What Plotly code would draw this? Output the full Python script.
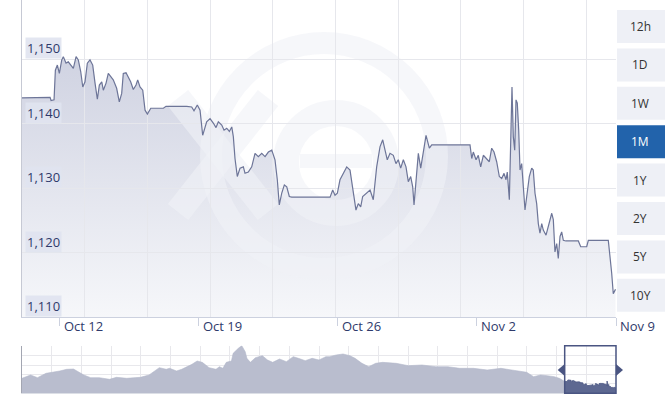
import pandas as pd
import plotly.graph_objects as go

# ---------------- data ----------------
# main series: hours since 2020-10-10 00:00 and the rate
hours = [2.7, 36.6, 37.8, 41.4, 43.0, 45.4, 47.8, 50.7, 52.6, 55.9, 58.6, 62.8, 64.7, 68.0, 70.7,
         73.6, 76.1, 78.8, 81.6, 84.8, 88.1, 90.9, 93.7, 96.1, 99.0, 100.9, 104.2, 106.9, 109.8,
         112.9, 117.0, 120.2, 123.1, 125.0, 128.3, 131.1, 133.9, 137.1, 140.4, 142.4, 145.2, 148.5,
         151.3, 154.1, 158.2, 173.4, 176.6, 201.6, 207.6, 210.4, 214.4, 217.7, 220.9, 225.7, 229.8,
         233.7, 237.0, 239.8, 243.9, 246.7, 249.9, 253.1, 256.0, 257.9, 259.9, 262.7,
         266.0, 270.0, 272.0, 276.0, 280.1, 284.1, 288.1, 292.2, 296.2, 300.2, 304.3, 308.2, 311.0,
         313.4, 316.3, 319.5, 322.4, 325.5, 328.4, 374.7, 377.9, 380.7, 383.5, 386.7, 390.7, 394.8,
         398.8, 402.8, 406.0, 408.8, 411.7, 414.1, 419.0, 423.0, 426.9, 431.0, 435.0, 438.3, 441.1,
         443.8, 447.1, 451.1, 454.3, 457.1, 460.0, 463.2, 466.4, 469.2, 472.1, 474.5, 476.1, 478.5,
         481.3, 484.2, 487.3, 490.6, 494.6, 497.5, 543.7,
         545.8, 547.7, 551.0, 553.7, 556.6, 559.8, 563.0, 567.0, 569.9, 572.7, 575.9, 579.1, 582.0,
         584.8, 587.2, 588.7, 591.2, 592.85, 594.4, 596.0, 597.7, 599.25, 600.8, 602.5, 604.1, 606.1,
         608.1, 610.1, 612.2, 615.3, 618.2, 620.1, 622.2, 624.2, 626.2, 628.2, 630.3, 632.2, 635.5,
         638.3, 642.4, 644.3, 646.3, 648.4, 650.3, 652.4, 654.4, 656.4, 659.6, 674.5, 677.4, 684.6,
         686.6, 710.7, 712.8, 714.8, 716.7, 719.4]
rates = [1.1440, 1.1441, 1.1436, 1.1437, 1.1483, 1.1491, 1.1478, 1.1499, 1.1504, 1.1494, 1.1496,
         1.1488, 1.1486, 1.1504, 1.1499, 1.1481, 1.1457, 1.1465, 1.1494, 1.1499, 1.1491, 1.1463,
         1.1438, 1.1460, 1.1465, 1.1452, 1.1463, 1.1478, 1.1473, 1.1468, 1.1455, 1.1434, 1.1447,
         1.1478, 1.1479, 1.1473, 1.1465, 1.1453, 1.1460, 1.1468, 1.1457, 1.1452, 1.1421, 1.1415,
         1.1424, 1.1424, 1.1427, 1.1427, 1.1426, 1.1420, 1.1429, 1.1421, 1.1382, 1.1403, 1.1408,
         1.1401, 1.1394, 1.1403, 1.1398, 1.1390, 1.1393, 1.1388, 1.1395, 1.1380, 1.1346, 1.1318,
         1.1331, 1.1333, 1.1323, 1.1325, 1.1333, 1.1354, 1.1349, 1.1354, 1.1349, 1.1356, 1.1359,
         1.1344, 1.1313, 1.1274, 1.1292, 1.1305, 1.1302, 1.1287, 1.1286, 1.1286, 1.1297, 1.1289,
         1.1292, 1.1313, 1.1323, 1.1333, 1.1328, 1.1297, 1.1266, 1.1276, 1.1271, 1.1287, 1.1292,
         1.1297, 1.1282, 1.1333, 1.1364, 1.1375, 1.1359, 1.1344, 1.1354, 1.1351, 1.1338, 1.1344,
         1.1331, 1.1344, 1.1333, 1.1310, 1.1318, 1.1302, 1.1274, 1.1318, 1.1354, 1.1331, 1.1354,
         1.1382, 1.1362, 1.1367, 1.1367,
         1.1346, 1.1356, 1.1344, 1.1351, 1.1333, 1.1351, 1.1346, 1.1341, 1.1362, 1.1356, 1.1341,
         1.1318, 1.1315, 1.1323, 1.1313, 1.1325, 1.1282, 1.1380, 1.1457, 1.1380, 1.1359, 1.1437,
         1.1432, 1.1390, 1.1328, 1.1338, 1.1307, 1.1266, 1.1287, 1.1318, 1.1331, 1.1328, 1.1292,
         1.1276, 1.1245, 1.1230, 1.1245, 1.1235, 1.1227, 1.1240, 1.1261, 1.1251, 1.1201, 1.1214,
         1.1191, 1.1225, 1.1232, 1.1219, 1.1218, 1.1218, 1.1209, 1.1209, 1.1219, 1.1219, 1.1194,
         1.1168, 1.1136, 1.1143]

# navigator history (before the selected month)
nav_dates = ["2019-11-29", "2019-12-04", "2019-12-08", "2019-12-13", "2019-12-21", "2019-12-25",
             "2019-12-29", "2020-01-01", "2020-01-04", "2020-01-08", "2020-01-13", "2020-01-19",
             "2020-01-23", "2020-01-29", "2020-02-06", "2020-02-11", "2020-02-15", "2020-02-17",
             "2020-02-21", "2020-02-23", "2020-02-27", "2020-03-01", "2020-03-07", "2020-03-10",
             "2020-03-13", "2020-03-17", "2020-03-21", "2020-03-23", "2020-03-25", "2020-03-27",
             "2020-03-30", "2020-03-31", "2020-04-03", "2020-04-05", "2020-04-07", "2020-04-08",
             "2020-04-10", "2020-04-13", "2020-04-17", "2020-04-20", "2020-04-23", "2020-04-27",
             "2020-05-01", "2020-05-05", "2020-05-08", "2020-05-12", "2020-05-16", "2020-05-20",
             "2020-05-24", "2020-05-26", "2020-05-30", "2020-06-03", "2020-06-07", "2020-06-10",
             "2020-06-14", "2020-06-18", "2020-06-22", "2020-06-26", "2020-07-04", "2020-07-11",
             "2020-07-19", "2020-07-27", "2020-08-03", "2020-08-10", "2020-08-18", "2020-08-26",
             "2020-09-03", "2020-09-10", "2020-09-18", "2020-09-22", "2020-09-26", "2020-09-30",
             "2020-10-04", "2020-10-07"]
nav_rates = [1.1557, 1.1680, 1.1581, 1.1742, 1.1829, 1.1891, 1.1903, 1.1804, 1.1680, 1.1581,
             1.1581, 1.1519, 1.1594, 1.1557, 1.1594, 1.1680, 1.1866, 1.1953, 1.1891, 1.1928,
             1.1829, 1.1891, 1.2077, 1.2201, 1.2151, 1.1953, 1.1891, 1.1990, 1.1928, 1.2151,
             1.2201, 1.2486, 1.2672, 1.2771, 1.2548, 1.2300, 1.2151, 1.2325, 1.2399, 1.2238,
             1.2151, 1.2275, 1.2176, 1.2362, 1.2300, 1.2213, 1.2300, 1.2238, 1.2362, 1.2362,
             1.2424, 1.2461, 1.2399, 1.2300, 1.2114, 1.1990, 1.2114, 1.2151, 1.2114, 1.2027,
             1.2052, 1.1990, 1.1990, 1.1928, 1.1928, 1.1866, 1.1928, 1.1866, 1.1780, 1.1618,
             1.1680, 1.1655, 1.1618, 1.1557]

y_ticks = [1.110, 1.120, 1.130, 1.140, 1.150]
x_tick_dates = ["2020-10-12", "2020-10-19", "2020-10-26", "2020-11-02", "2020-11-09"]
x_tick_labels = ["Oct 12", "Oct 19", "Oct 26", "Nov 2", "Nov 9"]
buttons = ["12h", "1D", "1W", "1M", "1Y", "2Y", "5Y", "10Y"]
active_button = "1M"

# ---------------- layout constants ----------------
BASE = pd.Timestamp("2020-10-10")
times = BASE + pd.to_timedelta(hours, unit="h")
nav_times = list(pd.to_datetime(nav_dates)) + [times[0]]
nav_vals = nav_rates + [rates[0]]

W, H = 672, 406
L, R = 22, 56
PW = W - L - R
MAIN_BOTTOM = 317
X_START = BASE + pd.Timedelta(hours=2.7)
X_END = pd.Timestamp("2020-11-09")
Y_MIN, Y_MAX = 1.110, 1.1592
NAV_START = pd.Timestamp("2019-11-29")
NAV_TOP, NAV_BOT = 345.7, 393.3
FONT = "Open Sans"
LABEL_COLOR = "#2f3a6b"


def pfx(px):
    return (px - L) / PW


def pfy(py):
    return (H - py) / H


def t_at(px):
    return (X_START + (px - L) / PW * (X_END - X_START)).strftime("%Y-%m-%d %H:%M:%S")


def v_at(py):
    return Y_MAX - py / MAIN_BOTTOM * (Y_MAX - Y_MIN)


main_dom = [pfy(MAIN_BOTTOM), 1.0]
nav_dom = [pfy(NAV_BOT), pfy(NAV_TOP)]

fig = go.Figure()

# area fill (main)
fig.add_trace(go.Scatter(
    x=times, y=rates, mode="lines", line=dict(width=0, color="rgba(0,0,0,0)"),
    fill="tozeroy",
    fillgradient=dict(type="vertical", colorscale=[[0, "#f6f7fa"], [1, "#d0d3e2"]],
                      start=Y_MIN, stop=1.150),
    xaxis="x", yaxis="y", hoverinfo="skip", showlegend=False))

# navigator
fig.add_trace(go.Scatter(
    x=nav_times, y=nav_vals, mode="lines", line=dict(width=0.6, color="#b4b9cb"),
    fill="tozeroy", fillcolor="#b9bdce", xaxis="x2", yaxis="y2",
    hoverinfo="skip", showlegend=False))
fig.add_trace(go.Scatter(
    x=times, y=rates, mode="lines", line=dict(width=0.8, color="#4f5a86"),
    fill="tozeroy", fillcolor="#5d6891", xaxis="x2", yaxis="y2",
    hoverinfo="skip", showlegend=False))

# main line (separate subplot so the watermark sits between fill and line)
fig.add_trace(go.Scatter(
    x=times, y=rates, mode="lines", line=dict(width=1.2, color="#6d7598"),
    xaxis="x3", yaxis="y3", hoverinfo="skip", showlegend=False))

shapes = []
WM = "rgba(240,241,246,0.6)"
# watermark: ring
cx, cy, r = 324, 156, 113
shapes.append(dict(type="circle", xref="x3", yref="y3", layer="below",
                   x0=t_at(cx - r), x1=t_at(cx + r), y0=v_at(cy + r), y1=v_at(cy - r),
                   line=dict(color=WM, width=22), fillcolor="rgba(0,0,0,0)"))
# watermark: x
for (a, b, c, d) in [(178, 98, 268, 212), (268, 98, 178, 212)]:
    shapes.append(dict(type="line", xref="x3", yref="y3", layer="below",
                       x0=t_at(a), y0=v_at(b), x1=t_at(c), y1=v_at(d),
                       line=dict(color=WM, width=26)))
# watermark: e
ex, ey, er = 336, 163, 50
shapes.append(dict(type="circle", xref="x3", yref="y3", layer="below",
                   x0=t_at(ex - er), x1=t_at(ex + er), y0=v_at(ey + er), y1=v_at(ey - er),
                   line=dict(color=WM, width=26), fillcolor="rgba(0,0,0,0)"))
shapes.append(dict(type="rect", xref="x3", yref="y3", layer="below",
                   x0=t_at(300), x1=t_at(372), y0=v_at(168), y1=v_at(154),
                   line=dict(width=0), fillcolor=WM))

# navigator window + handles
wl = (times[0] - NAV_START) / (X_END - NAV_START)
shapes.append(dict(type="rect", xref="paper", yref="paper", x0=wl, x1=1.0,
                   y0=nav_dom[0], y1=nav_dom[1], line=dict(color="#4a5582", width=1.5),
                   fillcolor="rgba(0,0,0,0)"))
ym = pfy(370)
hx, hy = 7 / PW, 6 / H
shapes.append(dict(type="path", xref="paper", yref="paper",
                   path=f"M {wl} {ym + hy} L {wl - hx} {ym} L {wl} {ym - hy} Z",
                   fillcolor="#4a5582", line=dict(width=0)))
shapes.append(dict(type="path", xref="paper", yref="paper",
                   path=f"M 1.0 {ym + hy} L {1.0 + hx} {ym} L 1.0 {ym - hy} Z",
                   fillcolor="#4a5582", line=dict(width=0)))

annotations = []
# range buttons
for i, b in enumerate(buttons):
    top = 10 + i * 38.4
    active = (b == active_button)
    shapes.append(dict(type="rect", xref="paper", yref="paper",
                       x0=pfx(617), x1=pfx(665), y0=pfy(top + 33), y1=pfy(top),
                       fillcolor="#2263ab" if active else "#eef0f6", line=dict(width=0)))
    annotations.append(dict(xref="paper", yref="paper", x=pfx(640), y=pfy(top + 16.5),
                            text=b, showarrow=False, xanchor="center", yanchor="middle",
                            font=dict(family=FONT, size=12,
                                      color="#ffffff" if active else "#333333")))

# y labels (inside, above each grid line)
for v in y_ticks:
    annotations.append(dict(xref="paper", yref="y", x=0, y=v, xanchor="left", yanchor="bottom",
                            xshift=3, text=f"{v:.3f}".replace(".", ","), showarrow=False,
                            bgcolor="rgba(224,227,240,0.9)", borderpad=1,
                            font=dict(family=FONT, size=13, color=LABEL_COLOR)))
# x labels (left aligned after the tick)
for d, t in zip(x_tick_dates, x_tick_labels):
    annotations.append(dict(xref="x", yref="paper", x=d, y=pfy(326), xanchor="left",
                            yanchor="middle", xshift=2, text=t, showarrow=False,
                            font=dict(family=FONT, size=13, color=LABEL_COLOR)))

GRID = "#e6e7ec"
fig.update_layout(
    width=W, height=H, margin=dict(l=L, r=R, t=0, b=0, autoexpand=False),
    paper_bgcolor="white", plot_bgcolor="rgba(0,0,0,0)",
    showlegend=False, hovermode=False,
    shapes=shapes, annotations=annotations,
    xaxis=dict(domain=[0, 1], anchor="y", type="date", range=[X_START, X_END],
               showgrid=False, zeroline=False, showline=True, linecolor="#ccd1df",
               ticks="outside", tickvals=x_tick_dates, ticklen=8, tickcolor="#ccd1df",
               showticklabels=False, fixedrange=True),
    yaxis=dict(domain=main_dom, anchor="x", range=[Y_MIN, Y_MAX], showgrid=False,
               zeroline=False, showline=True, linecolor="#c6c9d4", showticklabels=False,
               ticks="", fixedrange=True),
    xaxis3=dict(domain=[0, 1], anchor="y3", type="date", range=[X_START, X_END],
                showgrid=True, gridcolor=GRID, gridwidth=1, tick0=X_START,
                dtick=75.7 * 3600 * 1000, showticklabels=False, ticks="", showline=False,
                zeroline=False, fixedrange=True),
    yaxis3=dict(domain=main_dom, anchor="x3", range=[Y_MIN, Y_MAX], showgrid=True,
                gridcolor=GRID, tickvals=y_ticks, showticklabels=False, ticks="",
                showline=False, zeroline=False, fixedrange=True),
    xaxis2=dict(domain=[0, 1], anchor="y2", type="date", range=[NAV_START, X_END],
                showgrid=True, gridcolor="#e8e8ec", tick0=NAV_START,
                dtick=17.3 * 86400 * 1000, showticklabels=False, ticks="",
                showline=True, linecolor="#dcdfe6", zeroline=False, fixedrange=True),
    yaxis2=dict(domain=nav_dom, anchor="x2", range=[1.10, 1.277], showgrid=True,
                gridcolor="#e8e8ec", tick0=1.2735, dtick=0.0346, showticklabels=False,
                ticks="", showline=True, linecolor="#a3a6b2", zeroline=False,
                fixedrange=True),
)

fig.write_html("out.html", config={"displayModeBar": False},
               post_script="document.body.style.margin='0';document.body.style.overflow='hidden';")
